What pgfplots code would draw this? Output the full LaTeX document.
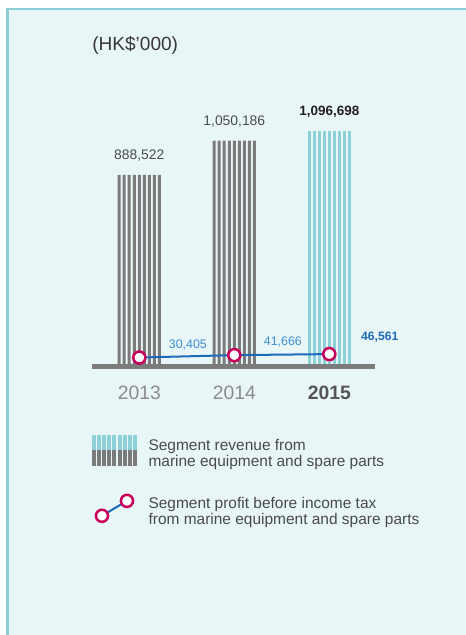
\documentclass[border=0pt]{standalone}
\usepackage{fontspec}
\setmainfont{Liberation Sans}
\usepackage{pgfplots}
\usepackage{pgfplotstable}
\pgfplotsset{compat=1.18}

\definecolor{panel}{HTML}{E9F6F7}
\definecolor{border}{HTML}{8CCDD5}
\definecolor{stripegray}{HTML}{7B7B7B}
\definecolor{stripeteal}{HTML}{8DD0D7}
\definecolor{labgray}{HTML}{4D4D4D}
\definecolor{labdark}{HTML}{231F20}
\definecolor{yeargray}{HTML}{8C8C8C}
\definecolor{yeardark}{HTML}{555555}
\definecolor{lineblue}{HTML}{1C6BBA}
\definecolor{labblue}{HTML}{3D8ED0}
\definecolor{boldblue}{HTML}{1D6AB9}
\definecolor{ringmag}{HTML}{C9005B}
\definecolor{legtext}{HTML}{4A4A4A}

% HK$'000
\pgfplotstableread{
x rev profit
0 888522 30405
1 1050186 41666
2 1096698 46561
}\segtable

\begin{document}
\begin{tikzpicture}
% panel (1 unit = 1 px of the reference)
\begin{scope}[x=0.75pt,y=-0.75pt]
  \fill[white] (0,0) rectangle (475,645);
  \fill[panel] (6,8) rectangle (475,645);
  \fill[border] (6,8) rectangle (475,10.5);
  \fill[border] (6,8) rectangle (8.5,645);
  \node[anchor=west, inner sep=0pt, text=black!78, font=\fontsize{14.3}{16}\selectfont] at (92,45) {(HK\$’000)};
\end{scope}

\begin{axis}[
  at={(69.225pt,-274.99pt)}, anchor=south west,
  scale only axis, width=212.03pt, height=193.44pt,
  xmin=-0.49474, xmax=2.48105, ymin=-12458, ymax=1200000,
  axis x line=bottom, axis y line=none,
  x axis line style={-, line width=3.975pt, draw=stripegray},
  xtick={0,1,2},
  xticklabels={{\color{yeargray}2013},{\color{yeargray}2014},{\color{yeardark}\bfseries 2015}},
  major tick length=0pt,
  xticklabel style={anchor=center, yshift=-19.76pt, font=\fontsize{14.5}{17}\selectfont},
  ytick=\empty,
  clip=false,
  /pgf/number format/assume math mode=true,
  legend cell align=left,
  legend style={at={(0,-0.265)}, anchor=north west, draw=none, fill=none,
    inner sep=0pt, outer sep=0pt, row sep=21pt, column sep=7.3pt,
    font=\fontsize{11.6}{12}\selectfont, text=legtext,
    cells={inner sep=0pt}},
]
\addlegendimage{legend image code/.code={
  \foreach \i in {0,...,8}{
    \fill[stripeteal] (\i*3.78pt,0pt) rectangle ++(2.25pt,11.25pt);
    \fill[stripegray] (\i*3.78pt,-11.25pt) rectangle ++(2.25pt,11.25pt);
  }}}
\addlegendentry{\begin{tabular}{@{}l@{}}Segment revenue from\\marine equipment and spare parts\end{tabular}}
\addlegendimage{legend image code/.code={
  \draw[lineblue, line width=1.5pt] (7.05pt,-5.6pt) -- (25.8pt,5.6pt);
  \draw[ringmag, fill=white, line width=1.9pt] (7.05pt,-5.6pt) circle (4.54pt);
  \draw[ringmag, fill=white, line width=1.9pt] (25.8pt,5.6pt) circle (4.54pt);
  }}
\addlegendentry{\begin{tabular}{@{}l@{}}Segment profit before income tax\\from marine equipment and spare parts\end{tabular}}

% striped revenue bars
\pgfplotsinvokeforeach{0,...,8}{
  \addplot[ybar, bar width=2.25pt, bar shift={(#1-4)*3.78pt}, fill=stripegray, draw=none,
    restrict x to domain=-0.5:1.5] table[x=x, y=rev] {\segtable};
  \addplot[ybar, bar width=2.25pt, bar shift={(#1-4)*3.78pt}, fill=stripeteal, draw=none,
    restrict x to domain=1.5:2.5] table[x=x, y=rev] {\segtable};
}

% revenue labels
\addplot[draw=none, restrict x to domain=-0.5:1.5, point meta=y,
  nodes near coords={\pgfmathprintnumber[fixed,1000 sep={,}]{\pgfplotspointmeta}},
  every node near coord/.style={anchor=center, yshift=14.5pt, text=labgray,
    font=\fontsize{10.4}{12}\selectfont}] table[x=x, y=rev] {\segtable};
\addplot[draw=none, restrict x to domain=1.5:2.5, point meta=y,
  nodes near coords={\pgfmathprintnumber[fixed,1000 sep={,}]{\pgfplotspointmeta}},
  every node near coord/.style={anchor=center, yshift=14.5pt, text=labdark,
    font=\fontsize{10.1}{12}\selectfont\bfseries}] table[x=x, y=rev] {\segtable};

% profit line
\addplot[lineblue, line width=1.5pt, mark=*, mark size=4.54pt,
  mark options={draw=ringmag, fill=white, line width=1.9pt}] table[x=x, y=profit] {\segtable};

% profit labels
\addplot[draw=none, restrict x to domain=-0.5:1.5, point meta=y,
  nodes near coords={\pgfmathprintnumber[fixed,1000 sep={,}]{\pgfplotspointmeta}},
  every node near coord/.style={anchor=center, xshift=36.4pt, yshift=9.7pt, text=labblue,
    font=\fontsize{9.3}{11}\selectfont}] table[x=x, y=profit] {\segtable};
\addplot[draw=none, restrict x to domain=1.5:2.5, point meta=y,
  nodes near coords={\pgfmathprintnumber[fixed,1000 sep={,}]{\pgfplotspointmeta}},
  every node near coord/.style={anchor=center, xshift=37.8pt, yshift=12.3pt, text=boldblue,
    font=\fontsize{9.1}{11}\selectfont\bfseries}] table[x=x, y=profit] {\segtable};
\end{axis}

% page is exactly the reference frame
\pgfresetboundingbox
\begin{scope}[x=0.75pt,y=-0.75pt]
  \path[use as bounding box] (0,0) rectangle (465,635);
\end{scope}
\end{tikzpicture}
\end{document}
